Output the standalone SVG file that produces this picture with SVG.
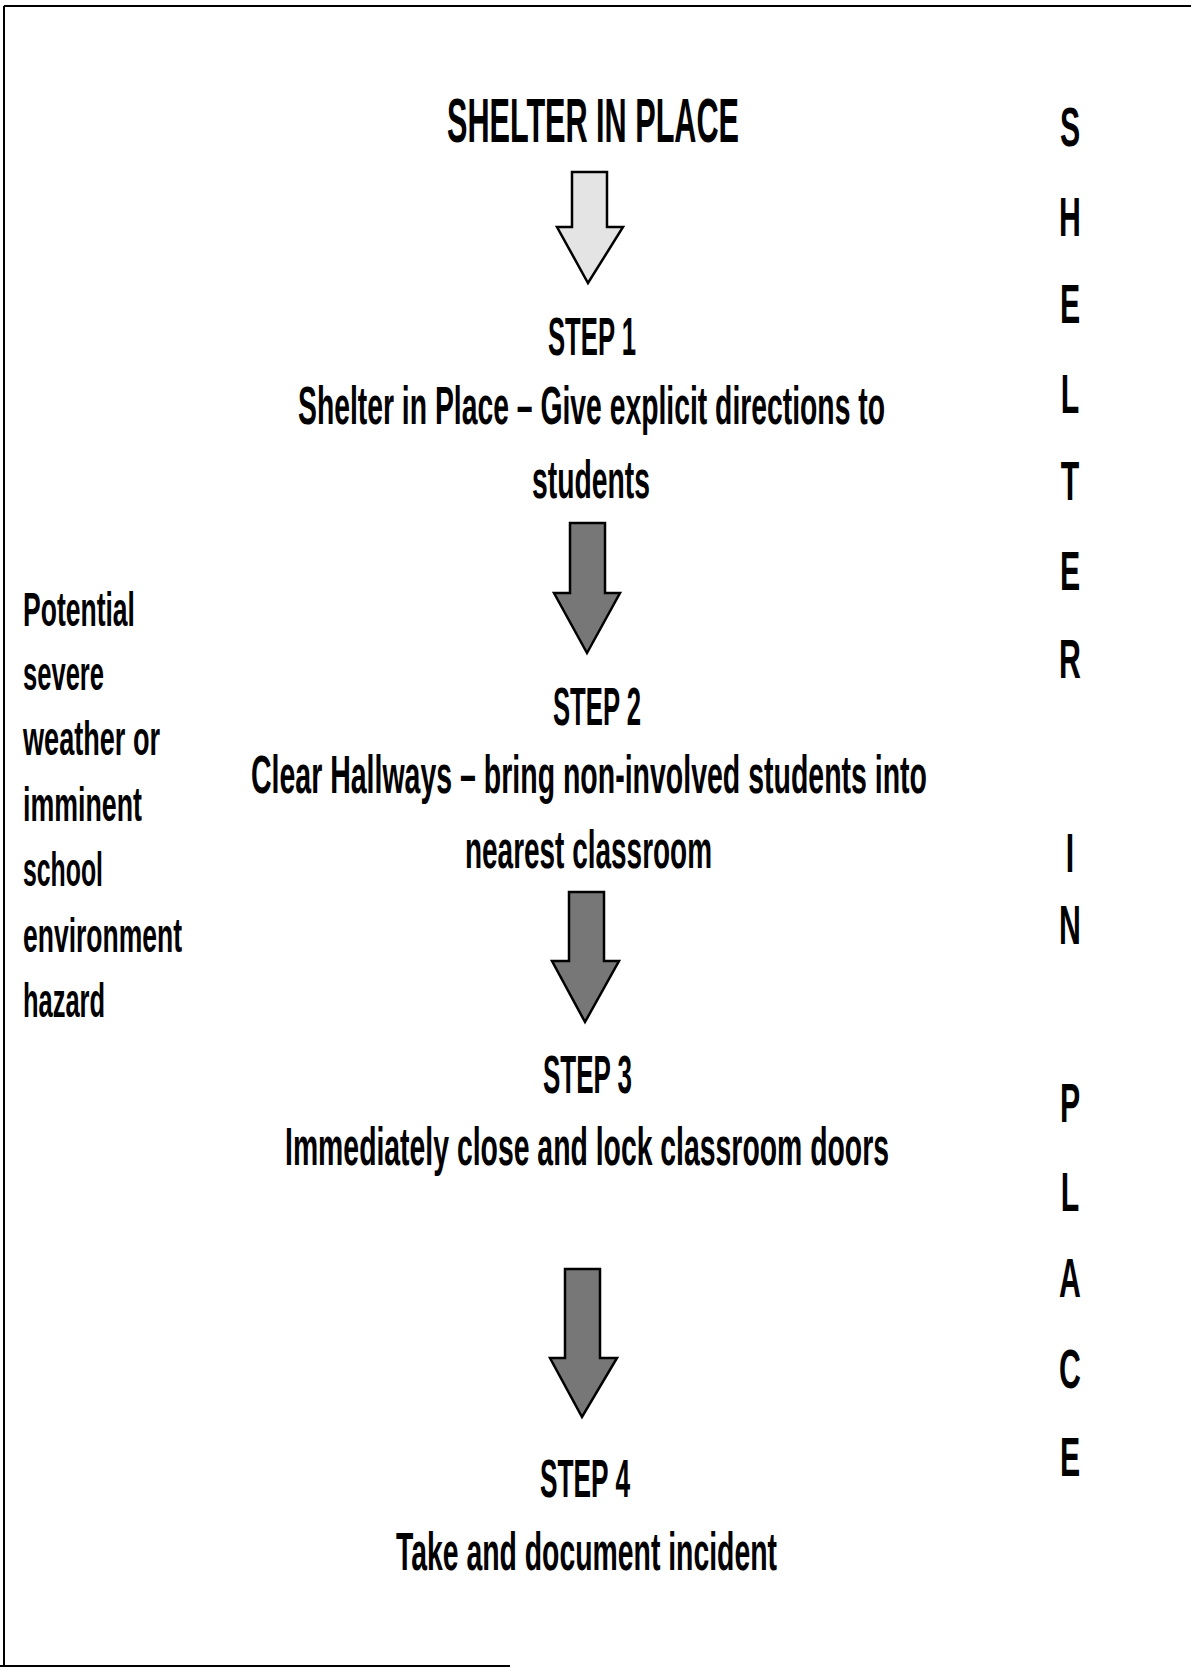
<svg xmlns="http://www.w3.org/2000/svg" width="1191" height="1668" viewBox="0 0 1191 1668">
<style>
  text { font-family: "Liberation Sans", Arial, sans-serif; font-weight: bold; fill: #000; }
  .title { font-size: 63px; }
  .step { font-size: 53px; }
  .body { font-size: 53px; }
  .side { font-size: 49px; }
  .vert { font-size: 55px; text-anchor: middle; }
  .arrow { stroke: #000; stroke-width: 2.5; stroke-linejoin: miter; }
  .light { fill: #e4e4e4; }
  .dark { fill: #777777; }
  .border { stroke: #000; stroke-width: 2; fill: none; }
</style>
<rect x="0" y="0" width="1191" height="1668" fill="#fff"/>
<g id="frame">
  <line class="border" x1="4" y1="6" x2="1191" y2="6"/>
  <line class="border" x1="4" y1="6" x2="4" y2="1666"/>
  <line class="border" x1="0" y1="1666" x2="510" y2="1666"/>
</g>
<g id="title">
  <text class="title" x="447" y="142" textLength="292" lengthAdjust="spacingAndGlyphs">SHELTER IN PLACE</text>
</g>
<g id="connectors">
  <path class="arrow light" d="M572,172 H607 V227 H623 L588,283 L557,227 H572 Z"/>
  <path class="arrow dark" d="M570,523 H605 V593 H620 L587,653 L554,593 H570 Z"/>
  <path class="arrow dark" d="M569,892 H604 V961 H619 L585,1022 L552,961 H569 Z"/>
  <path class="arrow dark" d="M565,1269 H600 V1358 H617 L582,1417 L550,1358 H565 Z"/>
</g>
<g id="step1">
  <text class="step" x="548" y="355" textLength="88" lengthAdjust="spacingAndGlyphs">STEP 1</text>
  <text class="body" x="298" y="424" textLength="587" lengthAdjust="spacingAndGlyphs">Shelter in Place – Give explicit directions to</text>
  <text class="body" x="532" y="498" textLength="118" lengthAdjust="spacingAndGlyphs">students</text>
</g>
<g id="step2">
  <text class="step" x="553" y="725" textLength="88" lengthAdjust="spacingAndGlyphs">STEP 2</text>
  <text class="body" x="251" y="793" textLength="676" lengthAdjust="spacingAndGlyphs">Clear Hallways – bring non-involved students into</text>
  <text class="body" x="465" y="868" textLength="247" lengthAdjust="spacingAndGlyphs">nearest classroom</text>
</g>
<g id="step3">
  <text class="step" x="543" y="1093" textLength="89" lengthAdjust="spacingAndGlyphs">STEP 3</text>
  <text class="body" x="285" y="1165" textLength="604" lengthAdjust="spacingAndGlyphs">Immediately close and lock classroom doors</text>
</g>
<g id="step4">
  <text class="step" x="540" y="1497" textLength="90" lengthAdjust="spacingAndGlyphs">STEP 4</text>
  <text class="body" x="396" y="1570" textLength="381" lengthAdjust="spacingAndGlyphs">Take and document incident</text>
</g>
<g id="trigger">
  <text class="side" x="23" y="626" textLength="112" lengthAdjust="spacingAndGlyphs">Potential</text>
  <text class="side" x="23" y="690" textLength="81" lengthAdjust="spacingAndGlyphs">severe</text>
  <text class="side" x="23" y="755" textLength="137" lengthAdjust="spacingAndGlyphs">weather or</text>
  <text class="side" x="23" y="821" textLength="119" lengthAdjust="spacingAndGlyphs">imminent</text>
  <text class="side" x="23" y="886" textLength="80" lengthAdjust="spacingAndGlyphs">school</text>
  <text class="side" x="23" y="952" textLength="159" lengthAdjust="spacingAndGlyphs">environment</text>
  <text class="side" x="23" y="1017" textLength="82" lengthAdjust="spacingAndGlyphs">hazard</text>
</g>
<g id="vertical-label" transform="translate(1070,0) scale(0.55,1)">
  <text class="vert" x="0" y="146">S</text>
  <text class="vert" x="0" y="236">H</text>
  <text class="vert" x="0" y="323">E</text>
  <text class="vert" x="0" y="413">L</text>
  <text class="vert" x="0" y="500">T</text>
  <text class="vert" x="0" y="590">E</text>
  <text class="vert" x="0" y="678">R</text>
  <text class="vert" x="0" y="872">I</text>
  <text class="vert" x="0" y="944">N</text>
  <text class="vert" x="0" y="1122">P</text>
  <text class="vert" x="0" y="1211">L</text>
  <text class="vert" x="0" y="1297">A</text>
  <text class="vert" x="0" y="1388">C</text>
  <text class="vert" x="0" y="1476">E</text>
</g>
</svg>
